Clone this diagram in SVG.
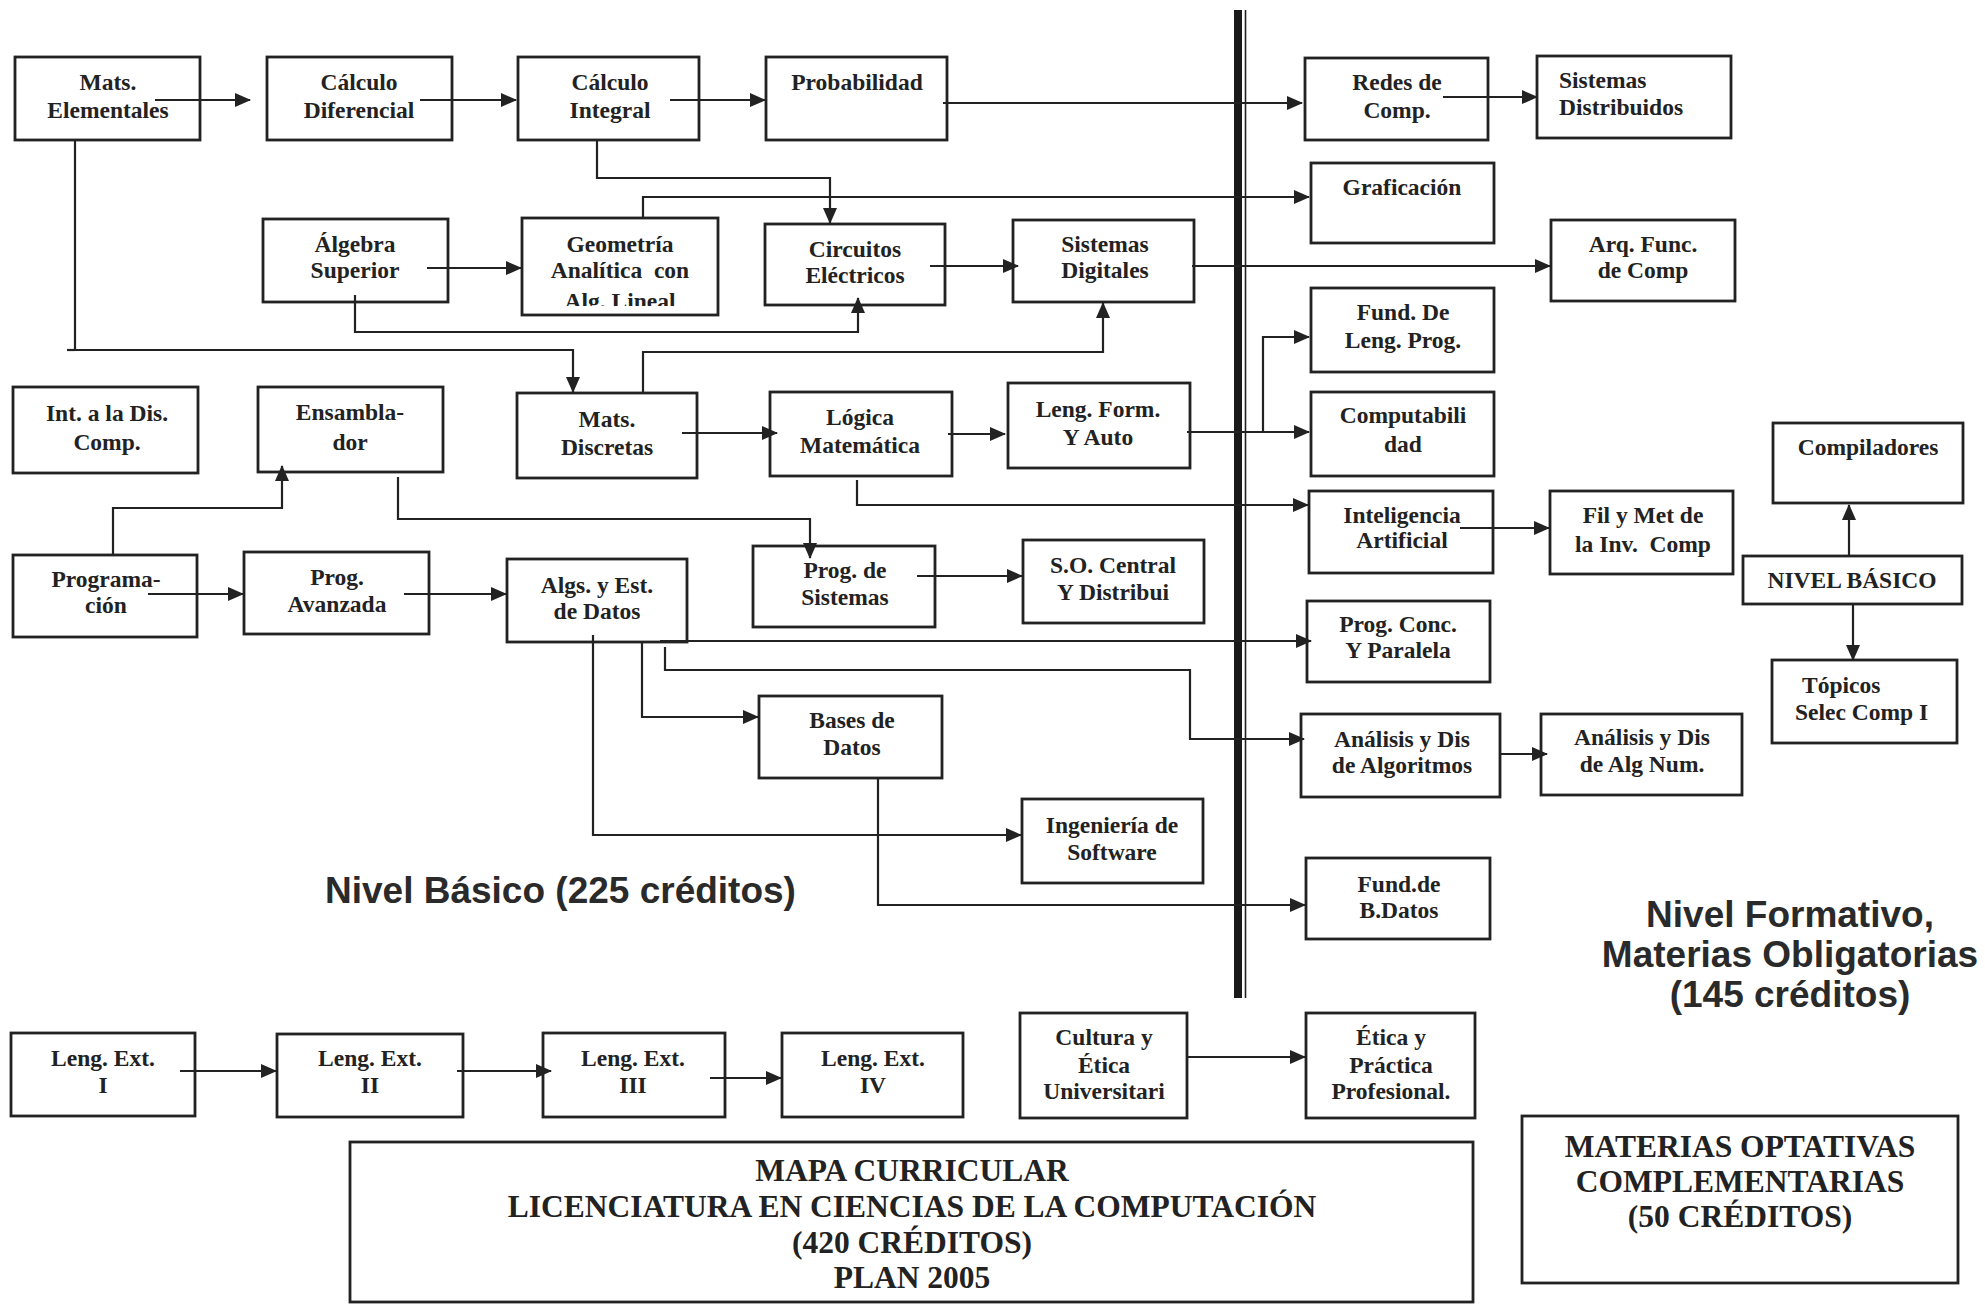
<svg xmlns="http://www.w3.org/2000/svg" width="1985" height="1304" viewBox="0 0 1985 1304">
<style>
.box{fill:#fff;stroke:#222;stroke-width:2.8}
.t{font-family:"Liberation Serif","Times New Roman",serif;font-weight:bold;font-size:23.5px;fill:#222;text-anchor:middle}
.ts{font-family:"Liberation Serif","Times New Roman",serif;font-weight:bold;font-size:23.5px;fill:#222;text-anchor:start}
.tt{font-family:"Liberation Serif","Times New Roman",serif;font-weight:bold;font-size:31.5px;fill:#222;text-anchor:middle}
.big{font-family:"Liberation Sans",Arial,sans-serif;font-weight:bold;font-size:37px;fill:#2a2a2a}
.c{fill:none;stroke:#222;stroke-width:2.2}
.a{marker-end:url(#ah)}
</style>
<defs>
<marker id="ah" markerUnits="userSpaceOnUse" markerWidth="16" markerHeight="14" refX="15" refY="7" orient="auto" viewBox="0 0 16 14"><path d="M0,0 L16,7 L0,14 z" fill="#222"/></marker>
<clipPath id="geoclip"><rect x="522" y="218" width="196" height="88"/></clipPath>
</defs>
<rect width="1985" height="1304" fill="#fff"/>

<g id="divider">
<rect x="1234" y="10" width="8" height="988" fill="#1a1a1a"/>
<line x1="1245.5" y1="10" x2="1245.5" y2="998" stroke="#222" stroke-width="1.6"/>
</g>

<g id="n-mats-elem"><rect class="box" x="15" y="57" width="185" height="83"/><text class="t" x="108" y="90">Mats.</text><text class="t" x="108" y="118">Elementales</text></g>
<g id="n-calc-dif"><rect class="box" x="267" y="57" width="185" height="83"/><text class="t" x="359" y="90">Cálculo</text><text class="t" x="359" y="118">Diferencial</text></g>
<g id="n-calc-int"><rect class="box" x="518" y="57" width="181" height="83"/><text class="t" x="610" y="90">Cálculo</text><text class="t" x="610" y="118">Integral</text></g>
<g id="n-prob"><rect class="box" x="766" y="57" width="181" height="83"/><text class="t" x="857" y="90">Probabilidad</text></g>
<g id="n-redes"><rect class="box" x="1305" y="58" width="183" height="82"/><text class="t" x="1397" y="90">Redes de</text><text class="t" x="1397" y="118">Comp.</text></g>
<g id="n-sist-dist"><rect class="box" x="1537" y="56" width="194" height="82"/><text class="ts" x="1559" y="88">Sistemas</text><text class="ts" x="1559" y="115">Distribuidos</text></g>
<g id="n-grafic"><rect class="box" x="1311" y="163" width="183" height="80"/><text class="t" x="1402" y="195">Graficación</text></g>
<g id="n-algebra"><rect class="box" x="263" y="219" width="185" height="83"/><text class="t" x="355" y="252">Álgebra</text><text class="t" x="355" y="278">Superior</text></g>
<g id="n-geom"><rect class="box" x="522" y="218" width="196" height="97"/><text class="t" x="620" y="252">Geometría</text><text class="t" x="620" y="278" xml:space="preserve">Analítica  con</text><text class="t" x="620" y="309" clip-path="url(#geoclip)">Alg. Lineal</text></g>
<g id="n-circ"><rect class="box" x="765" y="224" width="180" height="81"/><text class="t" x="855" y="257">Circuitos</text><text class="t" x="855" y="283">Eléctricos</text></g>
<g id="n-sist-dig"><rect class="box" x="1013" y="220" width="181" height="82"/><text class="t" x="1105" y="252">Sistemas</text><text class="t" x="1105" y="278">Digitales</text></g>
<g id="n-arq"><rect class="box" x="1551" y="220" width="184" height="81"/><text class="t" x="1643" y="252">Arq. Func.</text><text class="t" x="1643" y="278">de Comp</text></g>
<g id="n-fund-leng"><rect class="box" x="1311" y="288" width="183" height="84"/><text class="t" x="1403" y="320">Fund. De</text><text class="t" x="1403" y="348">Leng. Prog.</text></g>
<g id="n-int-dis"><rect class="box" x="13" y="387" width="185" height="86"/><text class="t" x="107" y="421">Int. a la Dis.</text><text class="t" x="107" y="450">Comp.</text></g>
<g id="n-ensam"><rect class="box" x="258" y="387" width="185" height="85"/><text class="t" x="350" y="420">Ensambla-</text><text class="t" x="350" y="450">dor</text></g>
<g id="n-mats-disc"><rect class="box" x="517" y="393" width="180" height="85"/><text class="t" x="607" y="427">Mats.</text><text class="t" x="607" y="455">Discretas</text></g>
<g id="n-logica"><rect class="box" x="770" y="392" width="182" height="84"/><text class="t" x="860" y="425">Lógica</text><text class="t" x="860" y="453">Matemática</text></g>
<g id="n-leng-form"><rect class="box" x="1008" y="383" width="182" height="85"/><text class="t" x="1098" y="417">Leng. Form.</text><text class="t" x="1098" y="445">Y Auto</text></g>
<g id="n-comput"><rect class="box" x="1311" y="392" width="183" height="84"/><text class="t" x="1403" y="423">Computabili</text><text class="t" x="1403" y="452">dad</text></g>
<g id="n-intel"><rect class="box" x="1309" y="491" width="184" height="82"/><text class="t" x="1402" y="523">Inteligencia</text><text class="t" x="1402" y="548">Artificial</text></g>
<g id="n-fil"><rect class="box" x="1550" y="491" width="183" height="83"/><text class="t" x="1643" y="523">Fil y Met de</text><text class="t" x="1643" y="552" xml:space="preserve">la Inv.  Comp</text></g>
<g id="n-compil"><rect class="box" x="1773" y="423" width="190" height="80"/><text class="t" x="1868" y="455">Compiladores</text></g>
<g id="n-nivel-basico"><rect class="box" x="1743" y="556" width="219" height="48"/><text class="t" x="1852" y="588">NIVEL BÁSICO</text></g>
<g id="n-topicos"><rect class="box" x="1772" y="660" width="185" height="83"/><text class="ts" x="1802" y="693">Tópicos</text><text class="ts" x="1795" y="720">Selec Comp I</text></g>
<g id="n-programacion"><rect class="box" x="13" y="555" width="184" height="82"/><text class="t" x="106" y="587">Programa-</text><text class="t" x="106" y="613">ción</text></g>
<g id="n-prog-av"><rect class="box" x="244" y="552" width="185" height="82"/><text class="t" x="337" y="585">Prog.</text><text class="t" x="337" y="612">Avanzada</text></g>
<g id="n-algs"><rect class="box" x="507" y="559" width="180" height="83"/><text class="t" x="597" y="593">Algs. y Est.</text><text class="t" x="597" y="619">de Datos</text></g>
<g id="n-prog-sis"><rect class="box" x="753" y="546" width="182" height="81"/><text class="t" x="845" y="578">Prog. de</text><text class="t" x="845" y="605">Sistemas</text></g>
<g id="n-so"><rect class="box" x="1023" y="540" width="181" height="83"/><text class="t" x="1113" y="573">S.O. Central</text><text class="t" x="1113" y="600">Y Distribui</text></g>
<g id="n-prog-conc"><rect class="box" x="1307" y="601" width="183" height="81"/><text class="t" x="1398" y="632">Prog. Conc.</text><text class="t" x="1398" y="658">Y Paralela</text></g>
<g id="n-bases"><rect class="box" x="759" y="696" width="183" height="82"/><text class="t" x="852" y="728">Bases de</text><text class="t" x="852" y="755">Datos</text></g>
<g id="n-analisis"><rect class="box" x="1301" y="714" width="199" height="83"/><text class="t" x="1402" y="747">Análisis y Dis</text><text class="t" x="1402" y="773">de Algoritmos</text></g>
<g id="n-alg-num"><rect class="box" x="1541" y="714" width="201" height="81"/><text class="t" x="1642" y="745">Análisis y Dis</text><text class="t" x="1642" y="772">de Alg Num.</text></g>
<g id="n-ing-soft"><rect class="box" x="1022" y="799" width="181" height="84"/><text class="t" x="1112" y="833">Ingeniería de</text><text class="t" x="1112" y="860">Software</text></g>
<g id="n-fund-bd"><rect class="box" x="1306" y="858" width="184" height="81"/><text class="t" x="1399" y="892">Fund.de</text><text class="t" x="1399" y="918">B.Datos</text></g>
<g id="n-leng1"><rect class="box" x="11" y="1033" width="184" height="83"/><text class="t" x="103" y="1066">Leng. Ext.</text><text class="t" x="103" y="1093">I</text></g>
<g id="n-leng2"><rect class="box" x="277" y="1034" width="186" height="83"/><text class="t" x="370" y="1066">Leng. Ext.</text><text class="t" x="370" y="1093">II</text></g>
<g id="n-leng3"><rect class="box" x="543" y="1033" width="182" height="84"/><text class="t" x="633" y="1066">Leng. Ext.</text><text class="t" x="633" y="1093">III</text></g>
<g id="n-leng4"><rect class="box" x="782" y="1033" width="181" height="84"/><text class="t" x="873" y="1066">Leng. Ext.</text><text class="t" x="873" y="1093">IV</text></g>
<g id="n-cultura"><rect class="box" x="1020" y="1013" width="167" height="105"/><text class="t" x="1104" y="1045">Cultura y</text><text class="t" x="1104" y="1073">Ética</text><text class="t" x="1104" y="1099">Universitari</text></g>
<g id="n-etica"><rect class="box" x="1306" y="1013" width="169" height="105"/><text class="t" x="1391" y="1045">Ética y</text><text class="t" x="1391" y="1073">Práctica</text><text class="t" x="1391" y="1099">Profesional.</text></g>

<g id="title"><rect class="box" x="350" y="1142" width="1123" height="160"/>
<text class="tt" x="912" y="1181">MAPA CURRICULAR</text>
<text class="tt" x="912" y="1217">LICENCIATURA EN CIENCIAS DE LA COMPUTACIÓN</text>
<text class="tt" x="912" y="1253">(420 CRÉDITOS)</text>
<text class="tt" x="912" y="1288">PLAN 2005</text></g>
<g id="optativas"><rect class="box" x="1522" y="1116" width="436" height="167"/>
<text class="tt" x="1740" y="1157">MATERIAS OPTATIVAS</text>
<text class="tt" x="1740" y="1192">COMPLEMENTARIAS</text>
<text class="tt" x="1740" y="1227">(50 CRÉDITOS)</text></g>

<g id="labels">
<text class="big" x="325" y="903">Nivel Básico (225 créditos)</text>
<text class="big" x="1790" y="927" text-anchor="middle">Nivel Formativo,</text>
<text class="big" x="1790" y="967" text-anchor="middle">Materias Obligatorias</text>
<text class="big" x="1790" y="1007" text-anchor="middle">(145 créditos)</text>
</g>

<g id="connectors">
<path class="c a" d="M155,100 H250"/>
<path class="c a" d="M420,100 H516"/>
<path class="c a" d="M670,100 H765"/>
<path class="c a" d="M943,103 H1302"/>
<path class="c a" d="M1443,97 H1537"/>
<path class="c a" d="M597,140 V178 H830 V223"/>
<path class="c a" d="M643,218 V197 H1309"/>
<path class="c a" d="M427,268 H521"/>
<path class="c a" d="M355,295 V332 H858 V298"/>
<path class="c a" d="M930,266 H1018"/>
<path class="c a" d="M1192,266 H1550"/>
<path class="c" d="M67,350 H75"/>
<path class="c a" d="M75,140 V350 H573 V392"/>
<path class="c a" d="M643,393 V352 H1103 V303"/>
<path class="c a" d="M682,433 H777"/>
<path class="c a" d="M948,434 H1005"/>
<path class="c a" d="M1187,432 H1309"/>
<path class="c a" d="M1263,432 V337 H1309"/>
<path class="c a" d="M857,480 V505 H1308"/>
<path class="c a" d="M1460,528 H1549"/>
<path class="c a" d="M113,555 V508 H282 V466"/>
<path class="c a" d="M148,594 H243"/>
<path class="c a" d="M404,594 H506"/>
<path class="c a" d="M398,477 V519 H810 V558"/>
<path class="c a" d="M917,576 H1022"/>
<path class="c a" d="M660,641 H1311"/>
<path class="c a" d="M665,647 V670 H1190 V739 H1304"/>
<path class="c a" d="M642,642 V717 H758"/>
<path class="c a" d="M593,635 V835 H1021"/>
<path class="c a" d="M878,778 V905 H1305"/>
<path class="c a" d="M1500,754 H1547"/>
<path class="c a" d="M1849,556 V505"/>
<path class="c a" d="M1853,604 V660"/>
<path class="c a" d="M180,1071 H276"/>
<path class="c a" d="M457,1071 H551"/>
<path class="c a" d="M710,1078 H781"/>
<path class="c a" d="M1187,1057 H1305"/>
</g>
</svg>
